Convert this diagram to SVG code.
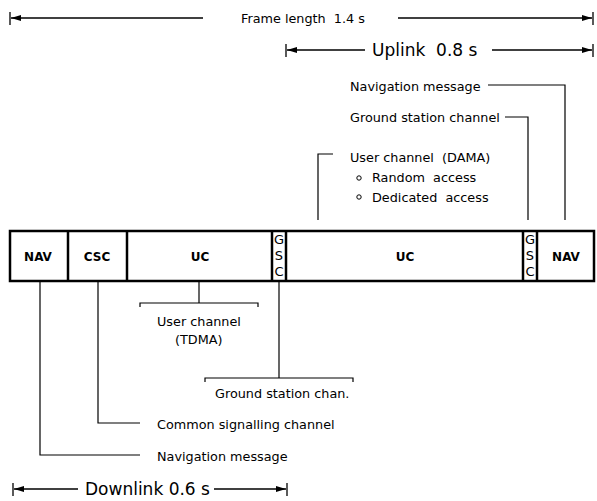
<svg xmlns="http://www.w3.org/2000/svg" width="597" height="501" viewBox="0 0 597 501">
<defs>
<marker id="ah" viewBox="0 0 10 6" refX="10" refY="3" markerWidth="10" markerHeight="6" markerUnits="userSpaceOnUse" orient="auto-start-reverse">
<path d="M0,0 L10,3 L0,6 Z" fill="#000"/>
</marker>
<style>
text{font-family:"DejaVu Sans","Liberation Sans",sans-serif;fill:#000}
.t{font-size:12.8px}
.b{font-size:17px}
.box{font-size:12px;font-weight:bold;text-anchor:middle}
.g{font-size:13px;text-anchor:middle}
.ln{fill:none;stroke:#000;stroke-width:1.2}
.dim{fill:none;stroke:#000;stroke-width:1.3}
.bar{fill:#fff;stroke:#000;stroke-width:2.5}
</style>
</defs>

<g id="dimensions">
<line class="dim" x1="10" y1="12" x2="10" y2="25"/>
<line class="dim" x1="593" y1="12" x2="593" y2="25"/>
<line class="dim" x1="203" y1="18" x2="11" y2="18" marker-end="url(#ah)"/>
<line class="dim" x1="398" y1="18" x2="592" y2="18" marker-end="url(#ah)"/>
<text class="t" x="241" y="23" xml:space="preserve">Frame length  1.4 s</text>

<line class="dim" x1="286" y1="44" x2="286" y2="57"/>
<line class="dim" x1="593" y1="44" x2="593" y2="57"/>
<line class="dim" x1="365" y1="50" x2="287" y2="50" marker-end="url(#ah)"/>
<line class="dim" x1="492" y1="50" x2="592" y2="50" marker-end="url(#ah)"/>
<text class="b" x="372" y="56" xml:space="preserve">Uplink  0.8 s</text>

<line class="dim" x1="13" y1="483" x2="13" y2="496"/>
<line class="dim" x1="287" y1="483" x2="287" y2="496"/>
<line class="dim" x1="78" y1="489" x2="14" y2="489" marker-end="url(#ah)"/>
<line class="dim" x1="214" y1="489" x2="286" y2="489" marker-end="url(#ah)"/>
<text class="b" x="85" y="495">Downlink 0.6 s</text>
</g>

<g id="frame">
<rect class="bar" x="10" y="231" width="584" height="50"/>
<g id="nav1"><line class="bar" x1="68" y1="231" x2="68" y2="281"/><text class="box" x="38" y="261">NAV</text></g>
<g id="csc"><line class="bar" x1="127" y1="231" x2="127" y2="281"/><text class="box" x="97" y="261">CSC</text></g>
<g id="uc1"><text class="box" x="200" y="261">UC</text></g>
<g id="gsc1"><line class="bar" x1="272" y1="231" x2="272" y2="281"/><line class="bar" x1="286" y1="231" x2="286" y2="281"/>
<text class="g" x="279" y="244">G</text><text class="g" x="279" y="260">S</text><text class="g" x="279" y="276">C</text></g>
<g id="uc2"><text class="box" x="405" y="261">UC</text></g>
<g id="gsc2"><line class="bar" x1="523" y1="231" x2="523" y2="281"/><line class="bar" x1="537" y1="231" x2="537" y2="281"/>
<text class="g" x="530" y="244">G</text><text class="g" x="530" y="260">S</text><text class="g" x="530" y="276">C</text></g>
<g id="nav2"><text class="box" x="566" y="261">NAV</text></g>
</g>

<g id="labels">
<g id="lbl-nav-up"><text class="t" x="350" y="91">Navigation message</text></g>
<g id="lbl-gsc-up"><text class="t" x="350" y="122">Ground station channel</text></g>
<g id="lbl-dama"><text class="t" x="350" y="162" xml:space="preserve">User channel  (DAMA)</text>
<circle cx="359" cy="178" r="2.2" fill="none" stroke="#000" stroke-width="1"/>
<text class="t" x="372" y="182" xml:space="preserve">Random  access</text>
<circle cx="359" cy="197" r="2.2" fill="none" stroke="#000" stroke-width="1"/>
<text class="t" x="372" y="202" xml:space="preserve">Dedicated  access</text></g>
<g id="lbl-tdma"><text class="t" x="157" y="326">User channel</text><text class="t" x="175" y="344">(TDMA)</text></g>
<g id="lbl-gsc-down"><text class="t" x="215" y="398">Ground station chan.</text></g>
<g id="lbl-csc"><text class="t" x="157" y="429">Common signalling channel</text></g>
<g id="lbl-nav-down"><text class="t" x="157" y="461">Navigation message</text></g>
</g>

<g id="connectors">
<polyline class="ln" points="488,85 565,85 565,220"/>
<polyline class="ln" points="505,117 528,117 528,220"/>
<polyline class="ln" points="333,154 318,154 318,220"/>
<line class="ln" x1="199" y1="282" x2="199" y2="303"/>
<polyline class="ln" points="140,307 140,303 258,303 258,307"/>
<line class="ln" x1="279" y1="282" x2="279" y2="378"/>
<polyline class="ln" points="205,382 205,378 353,378 353,382"/>
<polyline class="ln" points="98,282 98,423 140,423"/>
<polyline class="ln" points="40,282 40,455 140,455"/>
</g>
</svg>
